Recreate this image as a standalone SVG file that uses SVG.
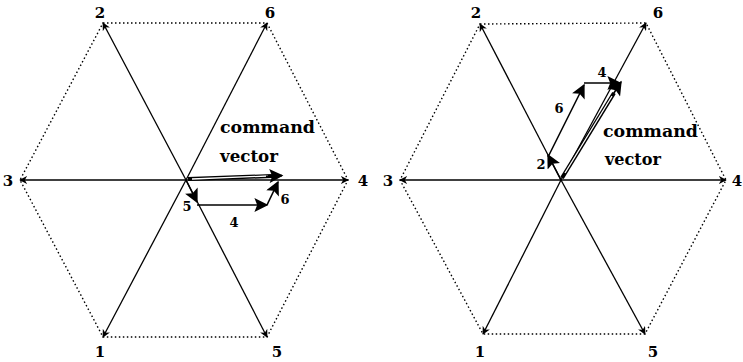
<svg xmlns="http://www.w3.org/2000/svg" width="743" height="362" viewBox="0 0 743 362">
<style>
.hex{fill:none;stroke:#000;stroke-width:1.4;stroke-dasharray:1.5 2.5}
.spoke{stroke:#000;stroke-width:1.3;fill:none}
.vec{stroke:#000;stroke-width:1.6;fill:none}
.cmdo{stroke:#000;stroke-width:4;fill:none}
.cmdi{stroke:#fff;stroke-width:1.3;fill:none}
.lbl{font-family:"DejaVu Serif","Liberation Serif",serif;font-weight:bold;font-size:15px;fill:#000;text-anchor:middle}
.sm{font-size:13px}
.cmd{font-family:"DejaVu Serif","Liberation Serif",serif;font-weight:bold;font-size:16px;fill:#000}
</style>
<defs>
<marker id="sa" viewBox="0 0 10 10" refX="9" refY="5" markerWidth="8" markerHeight="8" markerUnits="userSpaceOnUse" orient="auto">
<path d="M0,0 L10,5 L0,10 L3,5 Z" fill="#000"/>
</marker>
<marker id="ba" viewBox="0 0 10 10" refX="9" refY="5" markerWidth="16" markerHeight="14" markerUnits="userSpaceOnUse" orient="auto">
<path d="M0,0 L10,5 L0,10 L2,5 Z" fill="#000"/>
</marker>
</defs>

<g id="left-hexagon">
<polygon class="hex" points="103,23 267,23 348,180 267,337 103,337 20,180"/>
<g id="left-spokes">
<line class="spoke" x1="186" y1="180" x2="103" y2="23" marker-end="url(#sa)"/>
<line class="spoke" x1="186" y1="180" x2="267" y2="23" marker-end="url(#sa)"/>
<line class="spoke" x1="186" y1="180" x2="348" y2="180" marker-end="url(#sa)"/>
<line class="spoke" x1="186" y1="180" x2="20" y2="180" marker-end="url(#sa)"/>
<line class="spoke" x1="186" y1="180" x2="103" y2="337" marker-end="url(#sa)"/>
<line class="spoke" x1="186" y1="180" x2="267" y2="337" marker-end="url(#sa)"/>
</g>
<g id="left-vertex-labels">
<text class="lbl" x="100" y="18">2</text>
<text class="lbl" x="270" y="18">6</text>
<text class="lbl" x="8" y="186">3</text>
<text class="lbl" x="363" y="186">4</text>
<text class="lbl" x="100" y="357">1</text>
<text class="lbl" x="277" y="357">5</text>
</g>
<g id="left-path">
<line class="vec" x1="186" y1="180" x2="197" y2="202" marker-end="url(#ba)"/>
<line class="vec" x1="197" y1="205" x2="267" y2="205" marker-end="url(#ba)"/>
<line class="vec" x1="267" y1="205" x2="278" y2="182" marker-end="url(#ba)"/>
<text class="lbl sm" x="187" y="211">5</text>
<text class="lbl sm" x="234" y="227">4</text>
<text class="lbl sm" x="285" y="204">6</text>
</g>
<g id="left-command">
<line class="cmdo" x1="188" y1="179" x2="272" y2="176"/>
<line class="cmdi" x1="192" y1="179" x2="268" y2="176"/>
<line class="vec" x1="266" y1="176.2" x2="282" y2="175.6" marker-end="url(#ba)"/>
<text class="cmd" x="220" y="133" textLength="95" lengthAdjust="spacingAndGlyphs">command</text>
<text class="cmd" x="220" y="162" textLength="58" lengthAdjust="spacingAndGlyphs">vector</text>
</g>
</g>

<g id="right-hexagon">
<polygon class="hex" points="480,24 646,23 726,180 645,334 483,334 400,180"/>
<g id="right-spokes">
<line class="spoke" x1="561" y1="180" x2="480" y2="24" marker-end="url(#sa)"/>
<line class="spoke" x1="561" y1="180" x2="646" y2="23" marker-end="url(#sa)"/>
<line class="spoke" x1="561" y1="180" x2="726" y2="180" marker-end="url(#sa)"/>
<line class="spoke" x1="561" y1="180" x2="400" y2="180" marker-end="url(#sa)"/>
<line class="spoke" x1="561" y1="180" x2="483" y2="334" marker-end="url(#sa)"/>
<line class="spoke" x1="561" y1="180" x2="645" y2="334" marker-end="url(#sa)"/>
</g>
<g id="right-vertex-labels">
<text class="lbl" x="476" y="18">2</text>
<text class="lbl" x="658" y="18">6</text>
<text class="lbl" x="388" y="186">3</text>
<text class="lbl" x="737" y="186">4</text>
<text class="lbl" x="480" y="357">1</text>
<text class="lbl" x="653" y="357">5</text>
</g>
<g id="right-path">
<line class="vec" x1="561" y1="180" x2="548" y2="155" marker-end="url(#ba)"/>
<line class="vec" x1="548" y1="157" x2="584" y2="85" marker-end="url(#ba)"/>
<line class="vec" x1="584" y1="83" x2="620" y2="83" marker-end="url(#ba)"/>
<text class="lbl sm" x="541" y="169">2</text>
<text class="lbl sm" x="559" y="113">6</text>
<text class="lbl sm" x="602" y="77">4</text>
</g>
<g id="right-command">
<line class="cmdo" x1="562" y1="178" x2="614" y2="93"/>
<line class="cmdi" x1="565" y1="173" x2="612" y2="96"/>
<line class="vec" x1="612" y1="96" x2="621" y2="82" marker-end="url(#ba)"/>
<text class="cmd" x="603" y="137" textLength="95" lengthAdjust="spacingAndGlyphs">command</text>
<text class="cmd" x="605" y="165" textLength="56" lengthAdjust="spacingAndGlyphs">vector</text>
</g>
</g>
</svg>
